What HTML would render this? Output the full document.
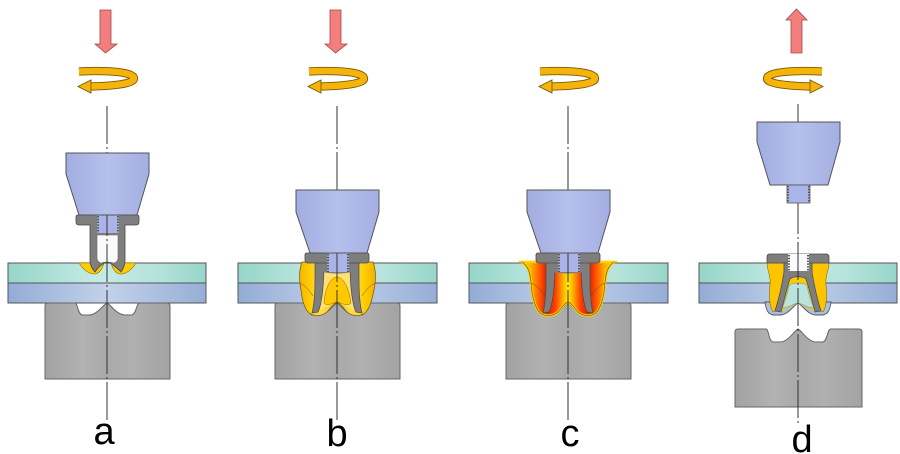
<!DOCTYPE html>
<html>
<head>
<meta charset="utf-8">
<style>
  html,body{margin:0;padding:0;background:#fff;}
  svg{display:block;}
  text{font-family:"Liberation Sans",sans-serif;}
</style>
</head>
<body>
<svg width="900" height="454" viewBox="0 0 900 454" xmlns="http://www.w3.org/2000/svg">
<defs>
  <linearGradient id="gTool" x1="0" x2="1" y1="0" y2="0">
    <stop offset="0" stop-color="#a2ade1"/>
    <stop offset="0.5" stop-color="#b6c0ec"/>
    <stop offset="1" stop-color="#a4afe2"/>
  </linearGradient>
  <linearGradient id="gTop" x1="0" x2="1" y1="0" y2="0">
    <stop offset="0" stop-color="#96d5c9"/>
    <stop offset="0.45" stop-color="#c6ebe5"/>
    <stop offset="0.75" stop-color="#b6e3db"/>
    <stop offset="1" stop-color="#97d5ca"/>
  </linearGradient>
  <linearGradient id="gBot" x1="0" x2="1" y1="0" y2="0">
    <stop offset="0" stop-color="#93acd6"/>
    <stop offset="0.5" stop-color="#c3d2e9"/>
    <stop offset="1" stop-color="#96aed7"/>
  </linearGradient>
  <linearGradient id="gDie" x1="0" x2="1" y1="0" y2="0">
    <stop offset="0" stop-color="#a2a2a2"/>
    <stop offset="0.3" stop-color="#b2b2b2"/>
    <stop offset="0.5" stop-color="#a9a9a9"/>
    <stop offset="0.7" stop-color="#b0b0b0"/>
    <stop offset="1" stop-color="#a3a3a3"/>
  </linearGradient>
  <linearGradient id="gYel" gradientUnits="userSpaceOnUse" x1="-40" x2="40" y1="0" y2="0">
    <stop offset="0" stop-color="#f2ac00"/>
    <stop offset="0.15" stop-color="#ffcc00"/>
    <stop offset="0.3" stop-color="#ffdb50"/>
    <stop offset="0.5" stop-color="#ffcc00"/>
    <stop offset="0.7" stop-color="#ffdb50"/>
    <stop offset="0.85" stop-color="#ffcc00"/>
    <stop offset="1" stop-color="#f2ac00"/>
  </linearGradient>
  <linearGradient id="gHot" gradientUnits="userSpaceOnUse" x1="-46" x2="46" y1="0" y2="0">
    <stop offset="0" stop-color="#ffd000"/>
    <stop offset="0.1" stop-color="#ffb000"/>
    <stop offset="0.19" stop-color="#ff5a00"/>
    <stop offset="0.27" stop-color="#e41c00"/>
    <stop offset="0.36" stop-color="#ff3c00"/>
    <stop offset="0.44" stop-color="#ffa800"/>
    <stop offset="0.5" stop-color="#ffec00"/>
    <stop offset="0.56" stop-color="#ffa800"/>
    <stop offset="0.64" stop-color="#ff3c00"/>
    <stop offset="0.73" stop-color="#e41c00"/>
    <stop offset="0.81" stop-color="#ff5a00"/>
    <stop offset="0.9" stop-color="#ffb000"/>
    <stop offset="1" stop-color="#ffd000"/>
  </linearGradient>
</defs>

<!-- ================= PANEL A ================= -->
<g transform="translate(107,0)">
  <path d="M-7,10 L4,10 L4,44 L10,44 L-1.5,53 L-12,44 L-7,44 Z" fill="#f47e7e" stroke="#9a4a4a" stroke-width="0.8"/>
  <path d="M-28,71.5 C0,70 26,72 27,78 C28,84 5,86 -17,86.5" fill="none" stroke="#7a5a00" stroke-width="8.2"/>
  <path d="M-28,71.5 C0,70 26,72 27,78 C28,84 5,86 -17,86.5" fill="none" stroke="#f6b40a" stroke-width="6.4"/>
  <polygon points="-16,80 -16,93 -29,86.5" fill="#f6b40a" stroke="#7a5a00" stroke-width="0.9"/>

  <rect x="-99" y="263" width="198" height="20" fill="url(#gTop)" stroke="#555" stroke-width="1"/>
  <rect x="-99" y="283" width="198" height="20" fill="url(#gBot)" stroke="#555" stroke-width="1"/>
  <path d="M-62,306 Q-62,303 -59,303 L-32,303 C-29,303 -30,313 -25,315 L-18,315 C-10,315 -4,305 0,303 C4,305 10,315 18,315 L25,315 C30,313 29,303 33,303 L60,303 Q63,303 63,306 L63,379 L-62,379 Z" fill="url(#gDie)" stroke="#666" stroke-width="1"/>

  <path d="M-28,263 Q-21,274 -12,274 Q-6,273 -3,263 Z" fill="#ffcc00" stroke="#8a6d00" stroke-width="0.6"/>
  <path d="M29,263 Q22,274 13,274 Q7,273 4,263 Z" fill="#ffcc00" stroke="#8a6d00" stroke-width="0.6"/>

  <path d="M-31,217 Q-31,215 -29,215 L30,215 Q32,215 32,217 L32,222 Q32,225 29,225 L18,225 L18,262 Q17,268 14,272 Q8,266 3,263 Q0,262 -3,263 Q-8,266 -12,272 Q-16,268 -17,262 L-17,225 L-28,225 Q-31,225 -31,222 Z" fill="#7e7e7e" stroke="#4a4a4a" stroke-width="0.8"/>
  <path d="M-10,235 L11,235 L11,258 Q11,262 7,263 Q0,261 -6,263 Q-10,262 -10,258 Z" fill="#fafafa" stroke="#666" stroke-width="0.6"/>
  <rect x="-10" y="215" width="22" height="18" fill="#aab4e6"/>
  <line x1="-9" y1="216" x2="-9" y2="233" stroke="#555" stroke-width="2" stroke-dasharray="1.4 1.4"/>
  <line x1="11" y1="216" x2="11" y2="233" stroke="#555" stroke-width="2" stroke-dasharray="1.4 1.4"/>

  <line x1="0" y1="106" x2="0" y2="420" stroke="#333" stroke-width="1" stroke-dasharray="38 3 2 3"/>
  <polygon points="-41,153 42,153 42,174 30,215 -28,215 -41,174" fill="url(#gTool)" stroke="#555" stroke-width="1"/>

  <text x="-3" y="444" font-size="38" text-anchor="middle" fill="#000">a</text>
</g>

<!-- ================= PANEL B ================= -->
<g transform="translate(337,0)">
  <path d="M-7,10 L4,10 L4,44 L10,44 L-1.5,53 L-12,44 L-7,44 Z" fill="#f47e7e" stroke="#9a4a4a" stroke-width="0.8"/>
  <path d="M-28,71.5 C0,70 26,72 27,78 C28,84 5,86 -17,86.5" fill="none" stroke="#7a5a00" stroke-width="8.2"/>
  <path d="M-28,71.5 C0,70 26,72 27,78 C28,84 5,86 -17,86.5" fill="none" stroke="#f6b40a" stroke-width="6.4"/>
  <polygon points="-16,80 -16,93 -29,86.5" fill="#f6b40a" stroke="#7a5a00" stroke-width="0.9"/>

  <rect x="-99" y="263" width="199" height="20" fill="url(#gTop)" stroke="#555" stroke-width="1"/>
  <rect x="-99" y="283" width="199" height="20" fill="url(#gBot)" stroke="#555" stroke-width="1"/>
  <path d="M-62,306 Q-62,303 -59,303 L-32,303 C-29,303 -30,313 -25,315 L-18,315 C-10,315 -4,305 0,303 C4,305 10,315 18,315 L25,315 C30,313 29,303 33,303 L60,303 Q63,303 63,306 L63,379 L-62,379 Z" fill="url(#gDie)" stroke="#666" stroke-width="1"/>

  <path d="M-35,262 C-38,270 -38,280 -36,290 C-35,300 -33,308 -28,313 C-22,317 -15,316 -10,312 C-5,306 -3,303 0,302 C3,303 5,306 10,312 C15,316 22,317 28,313 C33,308 35,300 37,290 C39,280 39,270 36,262 Z" fill="url(#gYel)" stroke="#6b5a00" stroke-width="0.7"/>
  <path d="M-38,283 C-32,285 -28,290 -24,296" fill="none" stroke="#6b5a00" stroke-width="0.5"/>
  <path d="M39,283 C33,285 29,290 25,296" fill="none" stroke="#6b5a00" stroke-width="0.5"/>
  <path d="M-13,270 L13,270 C14,288 15,300 18,310 C12,310 6,303 0,302 C-6,303 -12,310 -18,310 C-15,300 -14,288 -13,270 Z" fill="#ffe070"/>
  <path d="M-13,303 C-12,287 -6,277 0,277 C6,277 12,287 14,303 C10,307 5,303 0,302 C-5,303 -10,307 -13,303 Z" fill="#ffc800" stroke="#8a6d00" stroke-width="0.5"/>
  <path d="M-22,262 L-13,262 C-13,275 -14,292 -16,302 C-17,307 -18,310 -19,312 L-25,313 C-23,305 -22,292 -22,280 Z" fill="#7e7e7e" stroke="#4a4a4a" stroke-width="0.7"/>
  <path d="M22,262 L13,262 C13,275 14,292 16,302 C17,307 18,310 19,312 L25,313 C23,305 22,292 22,280 Z" fill="#7e7e7e" stroke="#4a4a4a" stroke-width="0.7"/>
  <path d="M-14,261 L14,261 L14,272 C8,274 -8,274 -14,272 Z" fill="#7e7e7e"/>
  <path d="M-32,255 Q-32,253 -30,253 L30,253 Q32,253 32,255 L32,260 Q32,263 29,263 L-29,263 Q-32,263 -32,260 Z" fill="#7e7e7e" stroke="#4a4a4a" stroke-width="0.8"/>
  <rect x="-10" y="253" width="22" height="19" fill="#aab4e6"/>
  <line x1="-9" y1="254" x2="-9" y2="272" stroke="#555" stroke-width="2" stroke-dasharray="1.4 1.4"/>
  <line x1="11" y1="254" x2="11" y2="272" stroke="#555" stroke-width="2" stroke-dasharray="1.4 1.4"/>

  <line x1="0" y1="106" x2="0" y2="420" stroke="#333" stroke-width="1" stroke-dasharray="38 3 2 3"/>
  <polygon points="-41,190 42,190 42,212 30,253 -27,253 -41,212" fill="url(#gTool)" stroke="#555" stroke-width="1"/>

  <text x="0" y="446" font-size="38" text-anchor="middle" fill="#000">b</text>
</g>

<!-- ================= PANEL C ================= -->
<g transform="translate(568,0)">
  <path d="M-28,71.5 C0,70 26,72 27,78 C28,84 5,86 -17,86.5" fill="none" stroke="#7a5a00" stroke-width="8.2"/>
  <path d="M-28,71.5 C0,70 26,72 27,78 C28,84 5,86 -17,86.5" fill="none" stroke="#f6b40a" stroke-width="6.4"/>
  <polygon points="-16,80 -16,93 -29,86.5" fill="#f6b40a" stroke="#7a5a00" stroke-width="0.9"/>

  <rect x="-99" y="263" width="199" height="20" fill="url(#gTop)" stroke="#555" stroke-width="1"/>
  <rect x="-99" y="283" width="199" height="20" fill="url(#gBot)" stroke="#555" stroke-width="1"/>
  <path d="M-62,306 Q-62,303 -59,303 L-32,303 C-29,303 -30,313 -25,315 L-18,315 C-10,315 -4,305 0,303 C4,305 10,315 18,315 L25,315 C30,313 29,303 33,303 L60,303 Q63,303 63,306 L63,379 L-62,379 Z" fill="url(#gDie)" stroke="#666" stroke-width="1"/>

  <path d="M-46,262 C-40,266 -38,272 -37,282 C-36,295 -34,306 -28,313 C-22,317 -15,316 -10,312 C-5,306 -3,303 0,302 C3,303 5,306 10,312 C15,316 22,317 28,313 C34,306 36,295 37,282 C38,272 40,266 46,262 Z" fill="url(#gHot)" stroke="#ffcf00" stroke-width="2.6"/>
  <path d="M-46,262 C-40,266 -38,272 -37,282 C-36,295 -34,306 -28,313 C-22,317 -15,316 -10,312 C-5,306 -3,303 0,302 C3,303 5,306 10,312 C15,316 22,317 28,313 C34,306 36,295 37,282 C38,272 40,266 46,262" fill="none" stroke="#6b4a00" stroke-width="0.6"/>
  <path d="M-37,283 C-31,285 -27,290 -23,296" fill="none" stroke="#6b4a00" stroke-width="0.5"/>
  <path d="M37,283 C31,285 27,290 23,296" fill="none" stroke="#6b4a00" stroke-width="0.5"/>
  <path d="M-22,262 L-13,262 C-13,275 -14,292 -16,302 C-17,307 -18,310 -19,312 L-25,313 C-23,305 -22,292 -22,280 Z" fill="#7e7e7e" stroke="#4a4a4a" stroke-width="0.7"/>
  <path d="M22,262 L13,262 C13,275 14,292 16,302 C17,307 18,310 19,312 L25,313 C23,305 22,292 22,280 Z" fill="#7e7e7e" stroke="#4a4a4a" stroke-width="0.7"/>
  <path d="M-14,261 L14,261 L14,272 C8,274 -8,274 -14,272 Z" fill="#7e7e7e"/>
  <path d="M-32,255 Q-32,253 -30,253 L30,253 Q32,253 32,255 L32,260 Q32,263 29,263 L-29,263 Q-32,263 -32,260 Z" fill="#7e7e7e" stroke="#4a4a4a" stroke-width="0.8"/>
  <rect x="-10" y="253" width="22" height="19" fill="#aab4e6"/>
  <line x1="-9" y1="254" x2="-9" y2="272" stroke="#555" stroke-width="2" stroke-dasharray="1.4 1.4"/>
  <line x1="11" y1="254" x2="11" y2="272" stroke="#555" stroke-width="2" stroke-dasharray="1.4 1.4"/>

  <line x1="0" y1="106" x2="0" y2="420" stroke="#333" stroke-width="1" stroke-dasharray="38 3 2 3"/>
  <polygon points="-41,190 42,190 42,212 30,253 -27,253 -41,212" fill="url(#gTool)" stroke="#555" stroke-width="1"/>

  <text x="2" y="446" font-size="38" text-anchor="middle" fill="#000">c</text>
</g>

<!-- ================= PANEL D ================= -->
<g transform="translate(798,0)">
  <path d="M-7,53 L-7,20 L-12,20 L-1.5,9 L9,20 L4,20 L4,53 Z" fill="#f47e7e" stroke="#9a4a4a" stroke-width="0.8"/>
  <g transform="translate(-4,0) scale(-1,1)">
    <path d="M-28,71.5 C0,70 26,72 27,78 C28,84 5,86 -17,86.5" fill="none" stroke="#7a5a00" stroke-width="8.2"/>
    <path d="M-28,71.5 C0,70 26,72 27,78 C28,84 5,86 -17,86.5" fill="none" stroke="#f6b40a" stroke-width="6.4"/>
    <polygon points="-16,80 -16,93 -29,86.5" fill="#f6b40a" stroke="#7a5a00" stroke-width="0.9"/>
  </g>

  <rect x="-99" y="263" width="198" height="20" fill="url(#gTop)" stroke="#555" stroke-width="1"/>
  <rect x="-99" y="283" width="198" height="20" fill="url(#gBot)" stroke="#555" stroke-width="1"/>
  <path d="M-33,302 C-32,310 -30,314 -25,315 L-18,315 C-10,315 -4,305 0,303 C4,305 10,315 18,315 L25,315 C30,314 32,310 33,302 Z" fill="#aabfe0" stroke="#555" stroke-width="0.9"/>
  <path d="M-63,332 Q-63,329 -60,329 L-32,329 C-29,329 -30,340 -25,342 L-18,342 C-10,342 -4,331 0,329 C4,331 10,342 18,342 L25,342 C30,340 29,329 33,329 L61,329 Q64,329 64,332 L64,407 L-63,407 Z" fill="url(#gDie)" stroke="#666" stroke-width="1"/>

  <path d="M-31,263 L-14,263 L-14,272 C-16,285 -19,298 -23,311 L-25,312 C-29,305 -29,295 -28,285 C-27,276 -31,270 -31,263 Z" fill="#ffc400" stroke="#6b5a00" stroke-width="0.5"/>
  <path d="M31,263 L14,263 L14,272 C16,285 19,298 23,311 L25,312 C29,305 29,295 28,285 C27,276 31,270 31,263 Z" fill="#ffc400" stroke="#6b5a00" stroke-width="0.5"/>
  <path d="M-14,272 L14,272 C16,285 19,298 23,311 C15,313 8,306 0,303 C-8,306 -15,313 -23,311 C-19,298 -16,285 -14,272 Z" fill="#ffc800"/>
  <path d="M-9,286 C-7,282 7,282 9,286 C11,295 13,302 16,308 C10,308 5,304 0,303 C-5,304 -10,308 -16,308 C-13,302 -11,295 -9,286 Z" fill="#b9e3dc" stroke="#6b8a80" stroke-width="0.5"/>
  <path d="M-14,262 L14,262 L14,272 C16,285 19,298 23,311 L17,312 C14,300 11,288 8,279 C5,276 -5,276 -8,279 C-11,288 -14,300 -17,312 L-23,311 C-19,298 -16,285 -14,272 Z" fill="#7e7e7e" stroke="#4a4a4a" stroke-width="0.7"/>
  <path d="M-31,257 Q-31,254 -28,254 L28,254 Q31,254 31,257 L31,263 L-31,263 Z" fill="#7e7e7e" stroke="#4a4a4a" stroke-width="0.8"/>
  <rect x="-10" y="254" width="21" height="17" fill="#fbfbfb"/>
  <line x1="-9" y1="255" x2="-9" y2="271" stroke="#555" stroke-width="2" stroke-dasharray="1.4 1.4"/>
  <line x1="10" y1="255" x2="10" y2="271" stroke="#555" stroke-width="2" stroke-dasharray="1.4 1.4"/>

  <line x1="0" y1="104" x2="0" y2="426" stroke="#333" stroke-width="1" stroke-dasharray="38 3 2 3"/>
  <polygon points="-41,122 42,122 42,142 30,185 -28,185 -41,142" fill="url(#gTool)" stroke="#555" stroke-width="1"/>
  <rect x="-11" y="185" width="23" height="18" fill="#aab4e6" stroke="#555" stroke-width="0.8"/>
  <line x1="-10" y1="186" x2="-10" y2="203" stroke="#555" stroke-width="2" stroke-dasharray="1.4 1.4"/>
  <line x1="11" y1="186" x2="11" y2="203" stroke="#555" stroke-width="2" stroke-dasharray="1.4 1.4"/>

  <text x="4" y="452" font-size="38" text-anchor="middle" fill="#000">d</text>
</g>
</svg>
</body>
</html>
